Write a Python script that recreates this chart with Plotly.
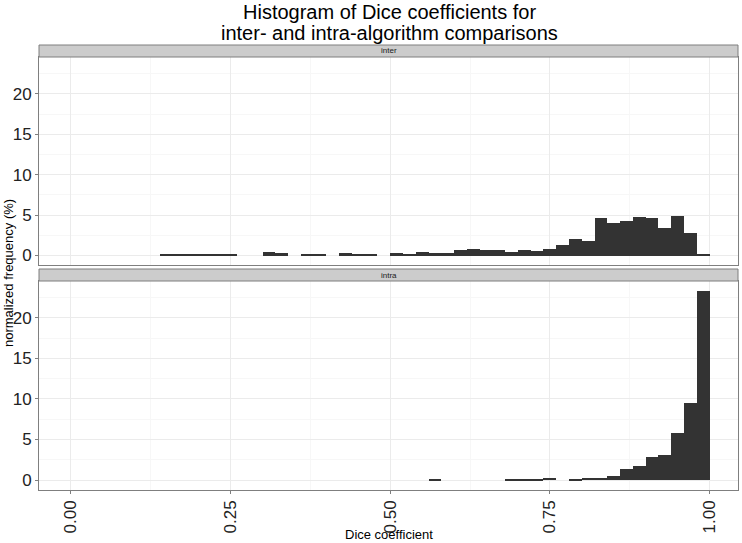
import plotly.graph_objects as go

# ---- data ----
bin_left = [0.00, 0.02, 0.04, 0.06, 0.08, 0.10, 0.12, 0.14, 0.16, 0.18,
            0.20, 0.22, 0.24, 0.26, 0.28, 0.30, 0.32, 0.34, 0.36, 0.38,
            0.40, 0.42, 0.44, 0.46, 0.48, 0.50, 0.52, 0.54, 0.56, 0.58,
            0.60, 0.62, 0.64, 0.66, 0.68, 0.70, 0.72, 0.74, 0.76, 0.78,
            0.80, 0.82, 0.84, 0.86, 0.88, 0.90, 0.92, 0.94, 0.96, 0.98]
binwidth = 0.02

inter_pct = [0, 0, 0, 0, 0, 0, 0, 0.10, 0.12, 0.20,
             0.18, 0.12, 0.10, 0, 0, 0.41, 0.33, 0, 0.20, 0.12,
             0, 0.33, 0.12, 0.20, 0, 0.37, 0.25, 0.49, 0.29, 0.29,
             0.74, 0.82, 0.66, 0.66, 0.41, 0.74, 0.62, 0.86, 1.31, 2.09,
             1.85, 4.59, 4.02, 4.22, 4.76, 4.63, 3.36, 4.88, 2.83, 0.25]

intra_pct = [0, 0, 0, 0, 0, 0, 0, 0, 0, 0,
             0, 0, 0, 0, 0, 0, 0, 0, 0, 0,
             0, 0, 0, 0, 0, 0, 0, 0, 0.12, 0,
             0, 0, 0, 0, 0.12, 0.12, 0.18, 0.29, 0, 0.12,
             0.27, 0.27, 0.55, 1.37, 1.72, 2.79, 3.09, 5.80, 9.47, 23.3]

panels = ["inter", "intra"]
x_ticks = [0.00, 0.25, 0.50, 0.75, 1.00]
x_tick_labels = ["0.00", "0.25", "0.50", "0.75", "1.00"]
y_ticks = [0, 5, 10, 15, 20]

title_lines = ["Histogram of Dice coefficients for",
               "inter- and intra-algorithm comparisons"]
x_title = "Dice coefficient"
y_title = "normalized frequency (%)"

# ---- layout geometry (pixels) ----
W, H = 742, 543
px_l, px_r = 39, 738
top_strip = (45, 57)
top_panel = (57, 265)
bot_strip = (269, 281)
bot_panel = (281, 489.5)

def fy(p):
    return 1 - p / H

def fx(p):
    return p / W

FONT = "Liberation Sans, Arial, Helvetica, sans-serif"
BAR = "#333333"
GRID_MAJ = "#EBEBEB"
GRID_MIN = "#F7F7F7"
BORDER = "#7F7F7F"

centers = [b + binwidth / 2 for b in bin_left]

fig = go.Figure()
fig.add_trace(go.Bar(x=centers, y=inter_pct, width=binwidth, marker=dict(color=BAR, line=dict(width=0)),
                     xaxis="x", yaxis="y", showlegend=False))
fig.add_trace(go.Bar(x=centers, y=intra_pct, width=binwidth, marker=dict(color=BAR, line=dict(width=0)),
                     xaxis="x2", yaxis="y2", showlegend=False))

xr = [-0.05, 1.0446]
yr = [-1.17, 24.56]

common_x = dict(range=xr, showgrid=True, gridcolor=GRID_MAJ, gridwidth=1,
                minor=dict(showgrid=True, gridcolor=GRID_MIN, dtick=0.125, tick0=0.125),
                zeroline=False, showline=True, linecolor=BORDER, linewidth=1, mirror=True,
                tickvals=x_ticks, ticktext=x_tick_labels, domain=[fx(px_l), fx(px_r)],
                fixedrange=True)
common_y = dict(range=yr, showgrid=True, gridcolor=GRID_MAJ, gridwidth=1,
                minor=dict(showgrid=True, gridcolor=GRID_MIN, dtick=5, tick0=2.5),
                zeroline=False, showline=True, linecolor=BORDER, linewidth=1, mirror=True,
                tickvals=y_ticks, ticks="outside", ticklen=3, tickcolor="#7F7F7F",
                tickfont=dict(family=FONT, size=17, color="#222222"), fixedrange=True)

fig.update_layout(
    width=W, height=H,
    margin=dict(l=0, r=0, t=0, b=0, autoexpand=False),
    paper_bgcolor="white", plot_bgcolor="white",
    bargap=0,
    hovermode=False,
    xaxis=dict(**common_x, anchor="y", showticklabels=False, ticks=""),
    yaxis=dict(**common_y, domain=[fy(top_panel[1]), fy(top_panel[0])], anchor="x"),
    xaxis2=dict(**common_x, anchor="y2", ticks="outside", ticklen=3, tickcolor="#7F7F7F",
                tickangle=-90, tickfont=dict(family=FONT, size=17, color="#222222")),
    yaxis2=dict(**common_y, domain=[fy(bot_panel[1]), fy(bot_panel[0])], anchor="x2"),
)

shapes = []
annotations = []
for name, (s0, s1) in zip(panels, [top_strip, bot_strip]):
    shapes.append(dict(type="rect", xref="paper", yref="paper",
                       x0=fx(px_l), x1=fx(px_r), y0=fy(s1), y1=fy(s0),
                       fillcolor="#CCCCCC", line=dict(color=BORDER, width=1)))
    annotations.append(dict(text=name, xref="paper", yref="paper",
                            x=fx((px_l + px_r) / 2), y=fy((s0 + s1) / 2),
                            xanchor="center", yanchor="middle", showarrow=False,
                            font=dict(family=FONT, size=8, color="#1A1A1A")))

for line, ypx in zip(title_lines, [12, 33]):
    annotations.append(dict(text=line, xref="paper", yref="paper",
                            x=fx(389), y=fy(ypx), xanchor="center", yanchor="middle",
                            showarrow=False, font=dict(family=FONT, size=20, color="black")))

annotations.append(dict(text=x_title, xref="paper", yref="paper", x=fx(389), y=fy(534),
                        xanchor="center", yanchor="middle", showarrow=False,
                        font=dict(family=FONT, size=13, color="black")))
annotations.append(dict(text=y_title, xref="paper", yref="paper", x=fx(8), y=fy(273),
                        xanchor="center", yanchor="middle", showarrow=False, textangle=-90,
                        font=dict(family=FONT, size=13, color="black")))

fig.update_layout(shapes=shapes, annotations=annotations)

fig.write_html("out.html", config={"displayModeBar": False},
               post_script="document.body.style.margin='0px';document.body.style.overflow='hidden';")
